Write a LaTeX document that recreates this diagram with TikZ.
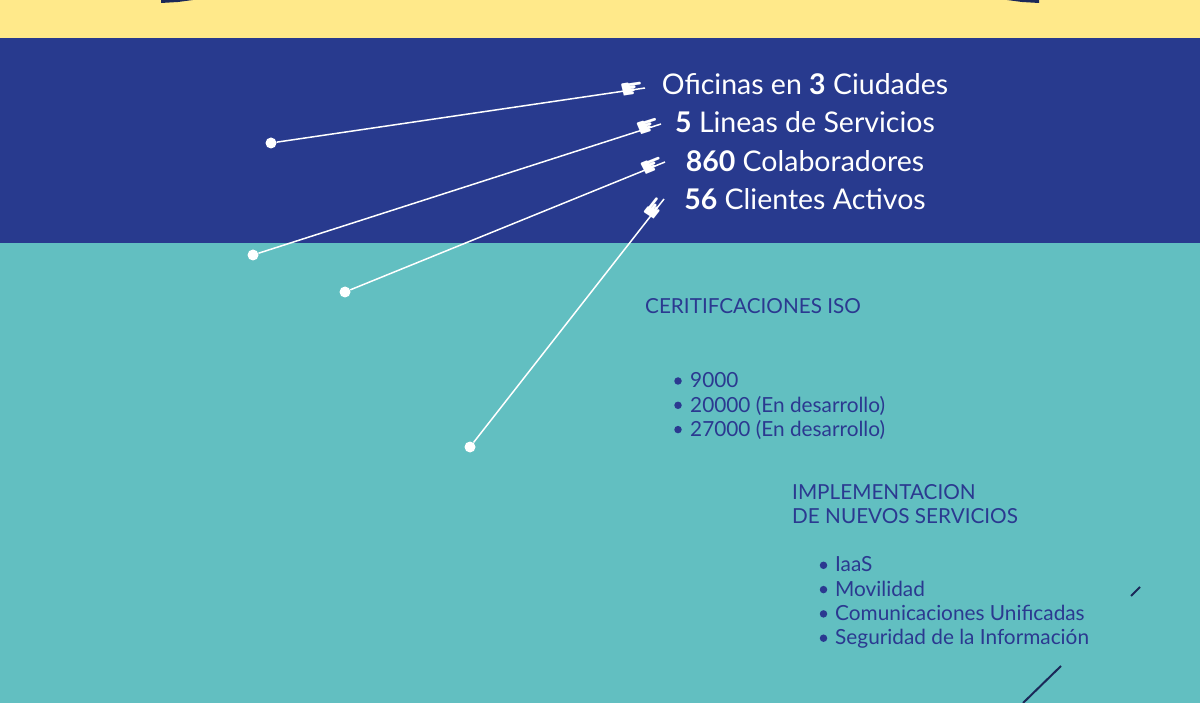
\documentclass[tikz,border=0pt]{standalone}
\usepackage{fontspec}
\setmainfont{Lato}
\newfontfamily\handfont{DejaVu Sans}
\usepackage{xcolor}
\usepackage{tikz}
\usetikzlibrary{positioning}
\definecolor{infoYellow}{HTML}{FFE98A}
\definecolor{infoNavy}{HTML}{283A8E}
\definecolor{infoTeal}{HTML}{62BFC1}
\definecolor{infoInk}{HTML}{2B3990}
\definecolor{infoDark}{HTML}{1B2858}

\begin{document}
\begin{tikzpicture}[x=1pt, y=-1pt, dot/.style={circle, fill=white, inner sep=0pt, minimum size=11pt}, stat/.style={anchor=base, text=white, inner sep=0pt, font=\fontsize{28.5}{34}\selectfont}, heading/.style={anchor=base west, text=infoInk, inner sep=0pt, font=\fontsize{20.7}{24}\selectfont}, item/.style={anchor=base west, text=infoInk, inner sep=0pt, font=\fontsize{20.8}{24}\selectfont}, bullet/.style={circle, fill=infoInk, inner sep=0pt, minimum size=7.5pt}, pointer/.style={draw=white, line width=1.5pt}, hand/.style={sloped, pos=1, anchor=east, inner sep=0pt, text=white, font=\handfont\fontsize{27}{27}\selectfont}]
\useasboundingbox (0,0) rectangle (1200,703);
% bands
\fill[infoYellow] (0,0) rectangle (1200,38.5);
\fill[infoNavy] (0,38.5) rectangle (1200,243);
\fill[infoTeal] (0,243) rectangle (1200,703);
\fill[infoDark] (161,0) -- (193,0) -- (178,2) -- (161,3) -- cycle;
\fill[infoDark] (1007,0) -- (1039,0) -- (1039,3) -- (1022,2) -- cycle;
% stats
\node[stat] (oficinas) at (805,94.5) {Oficinas en \textbf{3} Ciudades};
\node[stat] (lineas) at (805,133) {\textbf{5} Lineas de Servicios};
\node[stat] (colab) at (805,171.5) {\textbf{860} Colaboradores};
\node[stat] (clientes) at (805,210) {\textbf{56} Clientes Activos};
\coordinate (tipA) at (645,88);
\coordinate (tipB) at (661,124);
\coordinate (tipC) at (665,162);
\coordinate (tipD) at (664,199);
\node[dot] (dotA) at (271,143) {};
\node[dot] (dotB) at (253,255) {};
\node[dot] (dotC) at (345,292) {};
\node[dot] (dotD) at (470,447) {};
\draw[pointer] (dotA) -- (tipA) node[hand] {☛};
\draw[pointer] (dotB) -- (tipB) node[hand] {☛};
\draw[pointer] (dotC) -- (tipC) node[hand] {☛};
\draw[pointer] (dotD) -- (tipD) node[hand] {☛};
% certificaciones
\node[heading] (iso) at (645,313.5) {CERITIFCACIONES ISO};
\node[bullet] (isoA) at (678,381) {};
\node[bullet] (isoB) at (678,405.3) {};
\node[bullet] (isoC) at (678,429.6) {};
\node[item] (iso9) at (690,387.7) {9000};
\node[item] (iso20) at (690,412) {20000 (En desarrollo)};
\node[item] (iso27) at (690,436.3) {27000 (En desarrollo)};
% servicios
\node[heading] (impl) at (792,499.3) {IMPLEMENTACION};
\node[heading] (nuevos) at (792,523.3) {DE NUEVOS SERVICIOS};
\node[bullet] (srvA) at (823.5,565.3) {};
\node[bullet] (srvB) at (823.5,589.6) {};
\node[bullet] (srvC) at (823.5,613.9) {};
\node[bullet] (srvD) at (823.5,638.2) {};
\node[item] (iaas) at (835,571.7) {IaaS};
\node[item] (movil) at (835,596) {Movilidad};
\node[item] (comu) at (835,620.3) {Comunicaciones Unificadas};
\node[item] (segu) at (835,644.6) {Seguridad de la Información};
% trazos
\draw[infoDark, line width=2pt] (1131,596) -- (1140,587);
\draw[infoDark, line width=2pt] (1023,703) -- (1061,666);
\end{tikzpicture}
\end{document}
